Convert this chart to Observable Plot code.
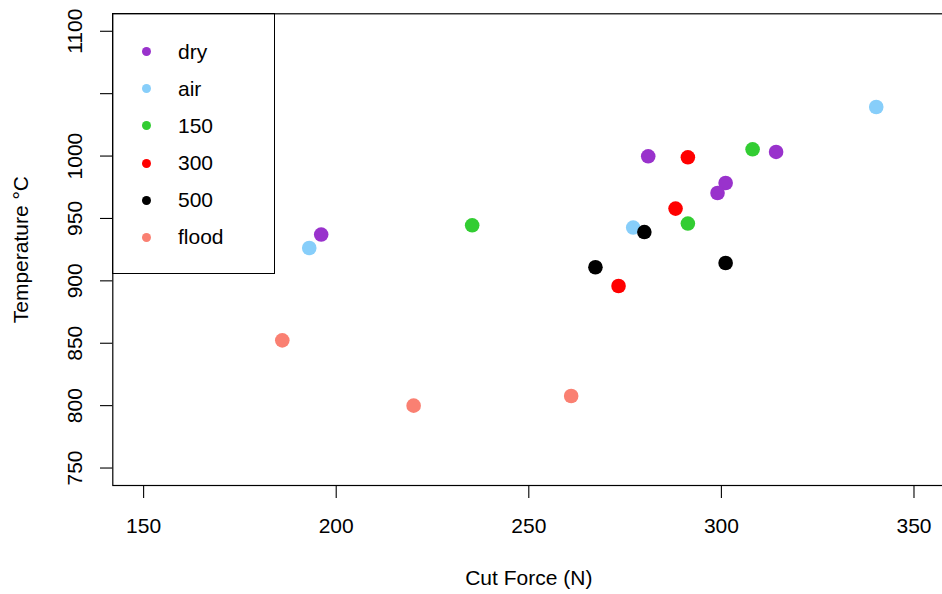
<!DOCTYPE html>
<html><head><meta charset="utf-8">
<script src="https://cdn.jsdelivr.net/npm/d3@7"></script>
<script src="https://cdn.jsdelivr.net/npm/@observablehq/plot@0.6"></script>
<style>
body{margin:0;background:#fff;font-family:"Liberation Sans",Arial,sans-serif;}
#wrap{position:relative;width:942px;height:594px;overflow:hidden;background:#fff;}
#wrap svg{display:block;}
.lg-box{position:absolute;box-sizing:border-box;border:1.2px solid #000;}
.lg-dot{position:absolute;width:9px;height:9px;border-radius:50%;}
.lg-txt{position:absolute;font-size:21px;line-height:1;color:#000;transform:translateY(-52%);white-space:nowrap;}
</style></head><body><div id="wrap"></div>
<script>
// Series
const groups = ["dry", "air", "150", "300", "500", "flood"];
const groupColors = ["#9932CC", "#87CEFA", "#32CD32", "#FF0000", "#000000", "#FA8072"];

const pointGroup = ["dry","dry","dry","dry","dry","air","air","air","150","150","150","300","300","300","500","500","500","flood","flood","flood"];
const pointForce = [196.1, 281.0, 314.2, 301.1, 299.0, 193.0, 340.2, 277.1, 235.3, 308.1, 291.3, 273.3, 291.3, 288.1, 267.3, 280.0, 301.1, 186.0, 220.1, 261.0];
const pointTemp  = [937.1, 999.8, 1003.3, 978.4, 970.4, 926.3, 1039.3, 942.7, 944.5, 1005.4, 945.9, 895.9, 999.0, 957.9, 910.9, 939.1, 914.3, 852.3, 800.0, 807.7];

// Axes
const xTicks = [150, 200, 250, 300, 350];
const yTicks = [750, 800, 850, 900, 950, 1000, 1050, 1100];
const yLabels = [750, 800, 850, 900, 950, 1000, 1100];
const xDomain = [142, 358];
const yDomain = [736, 1114];
const xTitle = "Cut Force (N)";
const yTitle = "Temperature °C";

const data = pointGroup.map((g, i) => ({group: g, force: pointForce[i], temp: pointTemp[i]}));

const chart = Plot.plot({
  width: 942, height: 594,
  marginLeft: 112.3, marginTop: 13.3, marginBottom: 109, marginRight: -2.3,
  style: {fontFamily: '"Liberation Sans", Arial, sans-serif', fontSize: "21px", color: "#000", background: "#fff", overflow: "hidden"},
  x: {domain: xDomain},
  y: {domain: yDomain},
  color: {domain: groups, range: groupColors},
  marks: [
    Plot.frame({stroke: "#000", strokeWidth: 1.2}),
    Plot.axisX({ticks: xTicks, label: null, tickSize: 13, tickPadding: 20, fontSize: 21, stroke: "#000", strokeWidth: 1.1, tickFormat: d => String(d)}),
    Plot.axisY({ticks: yTicks, label: null, tickSize: 12.3, tickPadding: 18.6, tickRotate: -90, textAnchor: "middle", lineAnchor: "bottom", fontSize: 21, stroke: "#000", strokeWidth: 1.1,
      tickFormat: d => yLabels.includes(d) ? String(d) : ""}),
    Plot.text([xTitle], {frameAnchor: "bottom", dy: 93, textAnchor: "middle", lineAnchor: "middle", fontSize: 21}),
    Plot.text([yTitle], {frameAnchor: "left", dx: -91.7, rotate: -90, textAnchor: "middle", lineAnchor: "middle", fontSize: 21}),
    Plot.dot(data, {x: "force", y: "temp", fill: "group", r: 7.3})
  ]
});
const wrap = document.getElementById("wrap");
wrap.appendChild(chart);

// Legend (top-left, inside the plot box)
const lg = d3.select(wrap);
lg.append("div").attr("class", "lg-box")
  .style("left", "111.7px").style("top", "12.7px")
  .style("width", "162.9px").style("height", "261.2px");
groups.forEach((g, i) => {
  const cy = 51.7 + i * 37.12;
  lg.append("div").attr("class", "lg-dot")
    .style("left", (146.7 - 4.5) + "px").style("top", (cy - 4.5) + "px")
    .style("background", groupColors[i]);
  lg.append("div").attr("class", "lg-txt")
    .style("left", "178px").style("top", cy + "px")
    .text(g);
});
</script>
</body></html>
